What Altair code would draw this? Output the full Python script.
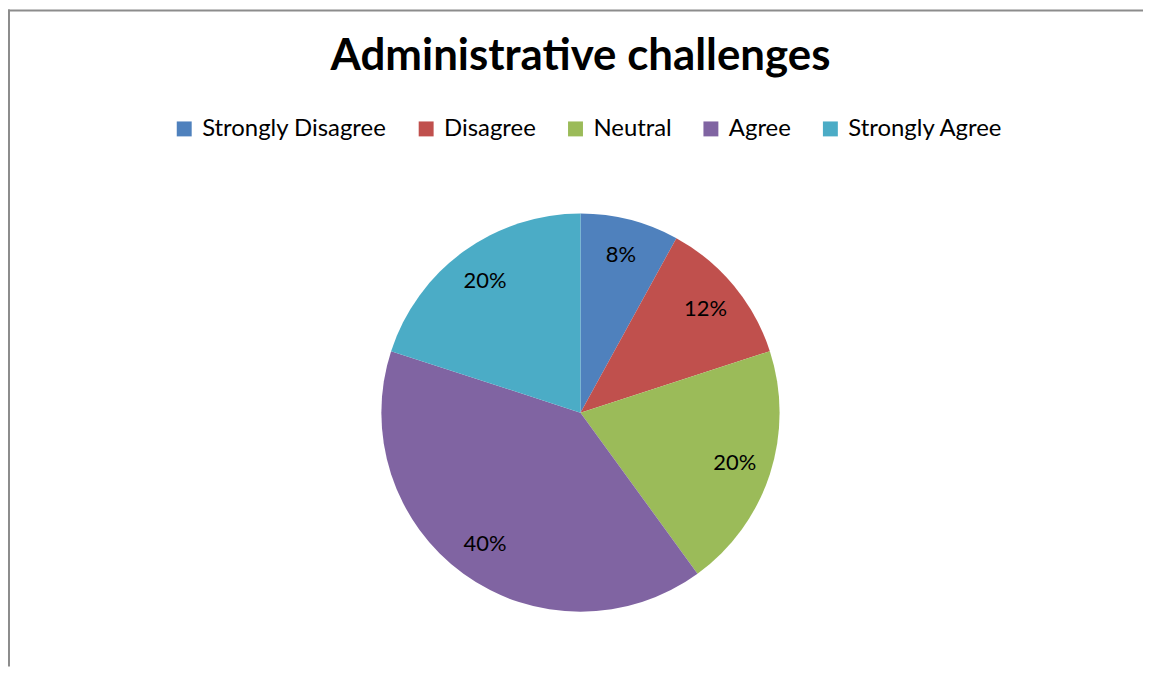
import altair as alt
import pandas as pd

categories = ["Strongly Disagree", "Disagree", "Neutral", "Agree", "Strongly Agree"]
values = [8, 12, 20, 40, 20]
labels = ["8%", "12%", "20%", "40%", "20%"]
colors = ["#4F81BD", "#C0504D", "#9BBB59", "#8064A2", "#4BACC6"]

df = pd.DataFrame({
    "category": categories,
    "value": values,
    "label": labels,
    "order": list(range(len(categories))),
})

W, H = 1140, 660
CX, CY = 575, 405

base = alt.Chart(df).encode(
    theta=alt.Theta("value:Q", stack=True),
    order=alt.Order("order:Q"),
)

pie = base.mark_arc(outerRadius=200).encode(
    x=alt.value(CX),
    y=alt.value(CY),
    color=alt.Color(
        "category:N",
        scale=alt.Scale(domain=categories, range=colors),
        sort=categories,
        legend=alt.Legend(
            title=None,
            orient="none",
            direction="horizontal",
            legendX=165,
            legendY=108,
            symbolType="square",
            symbolSize=225,
            symbolStrokeWidth=0,
            labelFontSize=24,
            labelFont="Lato",
            labelColor="#000000",
            labelLimit=400,
            columnPadding=27,
            labelOffset=6,
            symbolOpacity=1,
        ),
    ),
)

text = base.mark_text(radius=163, fontSize=22, font="Lato", color="#000000").encode(
    x=alt.value(CX),
    y=alt.value(CY),
    text="label:N",
)

border_df = pd.DataFrame({"k": [0]})
left_border = alt.Chart(border_df).mark_rule(color="#8c8c8c", strokeWidth=2).encode(
    x=alt.value(1), y=alt.value(0), y2=alt.value(H)
)
top_border = alt.Chart(border_df).mark_rule(color="#8c8c8c", strokeWidth=2).encode(
    y=alt.value(1), x=alt.value(0), x2=alt.value(W)
)

chart = alt.layer(left_border, top_border, pie, text).properties(
    width=W,
    height=H,
    padding=0,
    autosize=alt.AutoSizeParams(type="none"),
    title=alt.TitleParams(
        "Administrative challenges",
        fontSize=44,
        font="Lato",
        fontWeight="bold",
        color="#000000",
        anchor="middle",
        frame="group",
        baseline="top",
        dy=75,
        dx=5,
    ),
).configure_view(stroke=None)

chart.save("out.html", embed_options={"renderer": "svg", "actions": False})
